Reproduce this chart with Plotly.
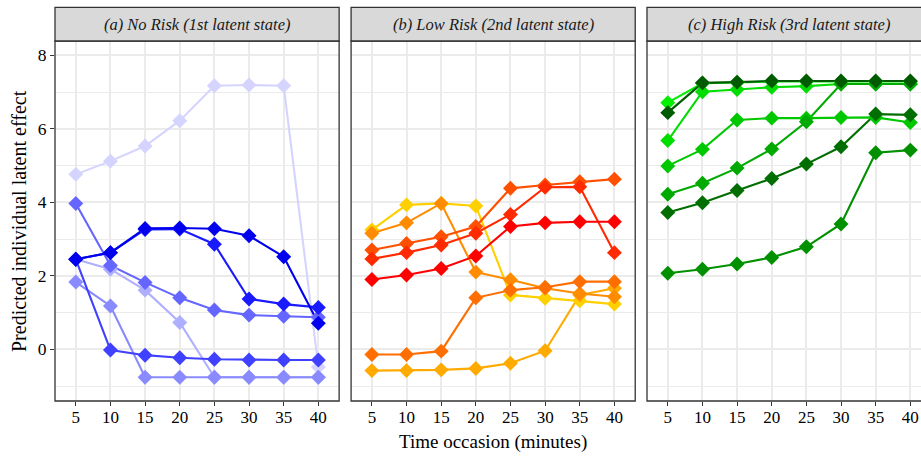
import plotly.graph_objects as go

# ---------------- data ----------------
times = [5, 10, 15, 20, 25, 30, 35, 40]
tick_labels = ["5", "10", "15", "20", "25", "30", "35", "40"]
y_ticks = [0, 2, 4, 6, 8]
panel_titles = ["(a) No Risk (1st latent state)",
                "(b) Low Risk (2nd latent state)",
                "(c) High Risk (3rd latent state)"]

# panel (a) No Risk - ordered light -> dark
a_lightest = [4.76, 5.12, 5.53, 6.22, 7.17, 7.19, 7.17, -0.48]
a_light = [2.45, 2.18, 1.61, 0.73, -0.76, -0.76, -0.76, -0.76]
a_pale = [1.83, 1.18, -0.76, -0.76, -0.76, -0.76, -0.76, -0.76]
a_mid = [3.97, 2.28, 1.82, 1.40, 1.07, 0.93, 0.90, 0.87]
a_midDark = [2.45, -0.02, -0.16, -0.23, -0.27, -0.29, -0.29, -0.29]
a_dark2 = [2.45, 2.63, 3.26, 3.27, 2.86, 1.37, 1.23, 1.14]
a_dark1 = [2.45, 2.63, 3.29, 3.30, 3.28, 3.09, 2.52, 0.71]

# panel (b) Low Risk - ordered light -> dark
b_yellow = [3.25, 3.93, 3.97, 3.90, 1.48, 1.39, 1.32, 1.23]
b_amber = [-0.58, -0.58, -0.56, -0.52, -0.38, -0.04, 1.48, 1.66]
b_orange = [3.16, 3.44, 3.97, 2.10, 1.89, 1.66, 1.52, 1.43]
b_darkOrange = [-0.14, -0.14, -0.05, 1.40, 1.61, 1.69, 1.84, 1.84]
b_redOrange = [2.70, 2.88, 3.06, 3.34, 4.38, 4.47, 4.56, 4.63]
b_orangeRed = [2.46, 2.63, 2.84, 3.16, 3.67, 4.41, 4.42, 2.63]
b_red = [1.90, 2.02, 2.20, 2.54, 3.34, 3.44, 3.47, 3.47]

# panel (c) High Risk - ordered light -> dark
c_lime = [6.71, 7.24, 7.26, 7.29, 7.29, 7.29, 7.29, 7.29]
c_bright = [5.68, 7.01, 7.07, 7.13, 7.16, 7.22, 7.22, 7.22]
c_green = [4.99, 5.44, 6.24, 6.29, 6.29, 6.31, 6.31, 6.17]
c_mid = [4.22, 4.52, 4.93, 5.45, 6.19, 7.22, 7.22, 7.22]
c_deep = [2.07, 2.18, 2.32, 2.50, 2.79, 3.41, 5.35, 5.42]
c_dark = [3.72, 3.99, 4.32, 4.65, 5.04, 5.51, 6.40, 6.38]
c_darkest = [6.44, 7.25, 7.27, 7.30, 7.30, 7.30, 7.30, 7.30]

panel_a = [a_lightest, a_light, a_pale, a_mid, a_midDark, a_dark2, a_dark1]
panel_b = [b_yellow, b_amber, b_orange, b_darkOrange, b_redOrange, b_orangeRed, b_red]
panel_c = [c_lime, c_bright, c_green, c_mid, c_deep, c_dark, c_darkest]

# ---------------- styles ----------------
colors_a = ["#D4D4FF", "#AFAFFF", "#8A8AFF", "#6565FF", "#4040FF", "#1A1AFF", "#0000EE"]
colors_b = ["#FFD000", "#FFAA00", "#FF8C00", "#FF6E00", "#FF5000", "#FF2A00", "#FF0000"]
colors_c = ["#00F000", "#00DD00", "#00C800", "#00AA00", "#009000", "#006E00", "#005A00"]

FONT = "Liberation Serif"
W, H = 921, 457
ML, MR, MT, MB = 55, 0, 41, 56
PW = W - ML - MR
PH = H - MT - MB
doms = [[0.0, 0.3281], [0.3419, 0.6700], [0.6836, 1.0]]
xranges = [[2, 43], [2, 43], [2, 41.54]]
yrange = [-1.407, 8.389]
GRID = "#EBEBEB"
BORDER = "#333333"

fig = go.Figure()
panels = [(panel_a, colors_a), (panel_b, colors_b), (panel_c, colors_c)]
for i, (series, cols) in enumerate(panels):
    xa = "x" if i == 0 else f"x{i+1}"
    ya = "y" if i == 0 else f"y{i+1}"
    for s, c in zip(series, cols):
        fig.add_trace(go.Scatter(x=times, y=s, mode="lines", xaxis=xa, yaxis=ya,
                                 line=dict(color=c, width=2.1), showlegend=False,
                                 hoverinfo="skip"))
    for s, c in zip(series, cols):
        fig.add_trace(go.Scatter(x=times, y=s, mode="markers", xaxis=xa, yaxis=ya,
                                 marker=dict(symbol="diamond", color=c, size=11.5,
                                             line=dict(width=0)),
                                 showlegend=False))

layout = dict(
    width=W, height=H,
    margin=dict(l=ML, r=MR, t=MT, b=MB, pad=0),
    paper_bgcolor="white", plot_bgcolor="white",
    font=dict(family=FONT, color="black", size=17),
    showlegend=False,
)
for i in range(3):
    sfx = "" if i == 0 else str(i + 1)
    layout["xaxis" + sfx] = dict(
        domain=doms[i], range=xranges[i], anchor="y" + sfx,
        tickmode="array", tickvals=times, ticktext=tick_labels,
        ticks="outside", ticklen=4, tickwidth=1.3, tickcolor=BORDER,
        ticklabelstandoff=-3,
        showgrid=True, gridcolor=GRID, gridwidth=1.9, zeroline=False,
        showline=False, tickfont=dict(size=17, family=FONT, color="black"),
    )
    layout["yaxis" + sfx] = dict(
        domain=[0, 1], range=yrange, anchor="x" + sfx,
        tickmode="array", tickvals=y_ticks,
        ticks="outside" if i == 0 else "", ticklen=4, tickwidth=1.3, tickcolor=BORDER,
        showticklabels=(i == 0),
        showgrid=True, gridcolor=GRID, gridwidth=1.9, zeroline=False,
        minor=dict(tickvals=[-1, 1, 3, 5, 7], showgrid=True, gridcolor=GRID,
                   gridwidth=1.2, ticks=""),
        showline=False, tickfont=dict(size=17.5, family=FONT, color="black"),
    )
fig.update_layout(**layout)

shapes = []
annotations = []
strip_top = 1 + (MT - 7.3) / PH
centers = [(doms[0][0] + doms[0][1]) / 2, (doms[1][0] + doms[1][1]) / 2,
           (647 + 931 - 2 * ML) / 2 / PW]
for i in range(3):
    x0, x1 = doms[i]
    if i == 2:
        x1 = 1.05
    shapes.append(dict(type="rect", xref="paper", yref="paper", x0=x0, x1=x1, y0=0, y1=1,
                       line=dict(color=BORDER, width=1.3), fillcolor="rgba(0,0,0,0)",
                       layer="above"))
    shapes.append(dict(type="rect", xref="paper", yref="paper", x0=x0, x1=x1,
                       y0=1, y1=strip_top, line=dict(color=BORDER, width=1.3),
                       fillcolor="#D9D9D9", layer="above"))
    annotations.append(dict(text="<i>" + panel_titles[i] + "</i>", xref="paper", yref="paper",
                            x=centers[i], y=(1 + strip_top) / 2, showarrow=False,
                            xanchor="center", yanchor="middle",
                            font=dict(size=16.5, family=FONT, color="#1A1A1A")))

annotations.append(dict(text="Time occasion (minutes)", xref="paper", yref="paper",
                        x=(493 - ML) / PW, y=-(442 - (MT + PH)) / PH, showarrow=False,
                        xanchor="center", yanchor="middle",
                        font=dict(size=19, family=FONT, color="black")))
annotations.append(dict(text="Predicted individual latent effect", xref="paper", yref="paper",
                        x=(19 - ML) / PW, y=0.5, showarrow=False, textangle=-90,
                        xanchor="center", yanchor="middle",
                        font=dict(size=20, family=FONT, color="black")))
fig.update_layout(shapes=shapes, annotations=annotations)

fig.write_html("out.html")
